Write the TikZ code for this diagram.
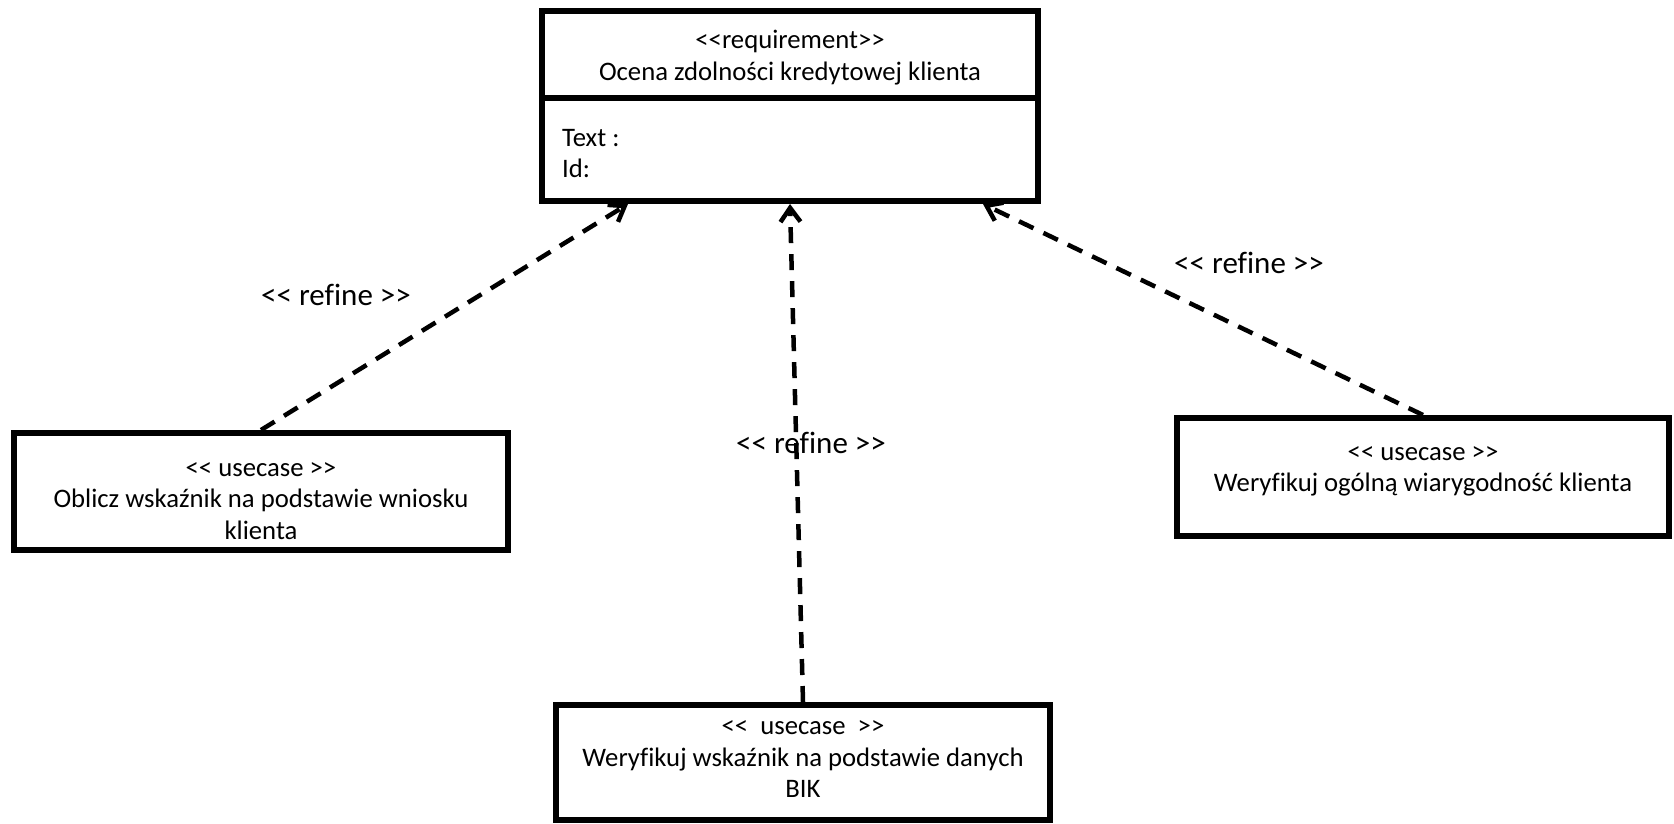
\documentclass[tikz,border=0pt]{standalone}
\usepackage{fontspec}
\setmainfont{Carlito}[Ligatures={TeXOff,NoCommon}]
\usetikzlibrary{arrows.meta}
\begin{document}
\begin{tikzpicture}[x=1pt,y=-1pt,
  box/.style={draw, line width=6pt, inner sep=0pt},
  txt/.style={align=center, inner sep=0pt, font=\fontsize{26.7}{31.5}\selectfont},
  lbl/.style={inner sep=0pt, font=\fontsize{31}{36}\selectfont},
  refine/.style={line width=4.5pt, dash pattern=on 16pt off 11pt, -{Straight Barb[length=14pt,width=20pt,line width=4.5pt]}}]
\useasboundingbox (0,0) rectangle (1674,823);
% requirement
\node[box, minimum width=496pt, minimum height=87pt] (reqh) at (790,54.5) {};
\node[box, minimum width=496pt, minimum height=103pt] (reqb) at (790,149.5) {};
\node[txt] (reqt) at (790,57.5) {<<requirement>>\\Ocena zdolności kredytowej klienta};
\node[txt, align=left, anchor=west] (reqa) at (562,153.5) {Text :\\Id:};
% use cases
\node[box, minimum width=494pt, minimum height=117pt] (uc1) at (261,491.5) {};
\node[txt] (uc1t) at (261,501) {<< usecase >>\\Oblicz wskaźnik na podstawie wniosku\\klienta};
\node[box, minimum width=492pt, minimum height=118pt] (uc2) at (1423,477) {};
\node[txt] (uc2t) at (1423,471.5) {<< usecase >>\\Weryfikuj ogólną wiarygodność klienta};
\node[box, minimum width=494pt, minimum height=115pt] (uc3) at (803,762.5) {};
\node[txt] (uc3t) at (803,759) {<<\ \ usecase\ \ >>\\Weryfikuj wskaźnik na podstawie danych\\BIK};
% connectors
\draw[refine] (uc1.north) -- ([xshift=-162pt]reqb.south);
\draw[refine] (uc3.north) -- (reqb.south);
\draw[refine] (uc2.north) -- ([xshift=193pt]reqb.south);
% labels
\node[lbl] (l1) at (336,295) {<< refine >>};
\node[lbl] (l2) at (811,443) {<< refine >>};
\node[lbl] (l3) at (1249,263) {<< refine >>};
\end{tikzpicture}
\end{document}
